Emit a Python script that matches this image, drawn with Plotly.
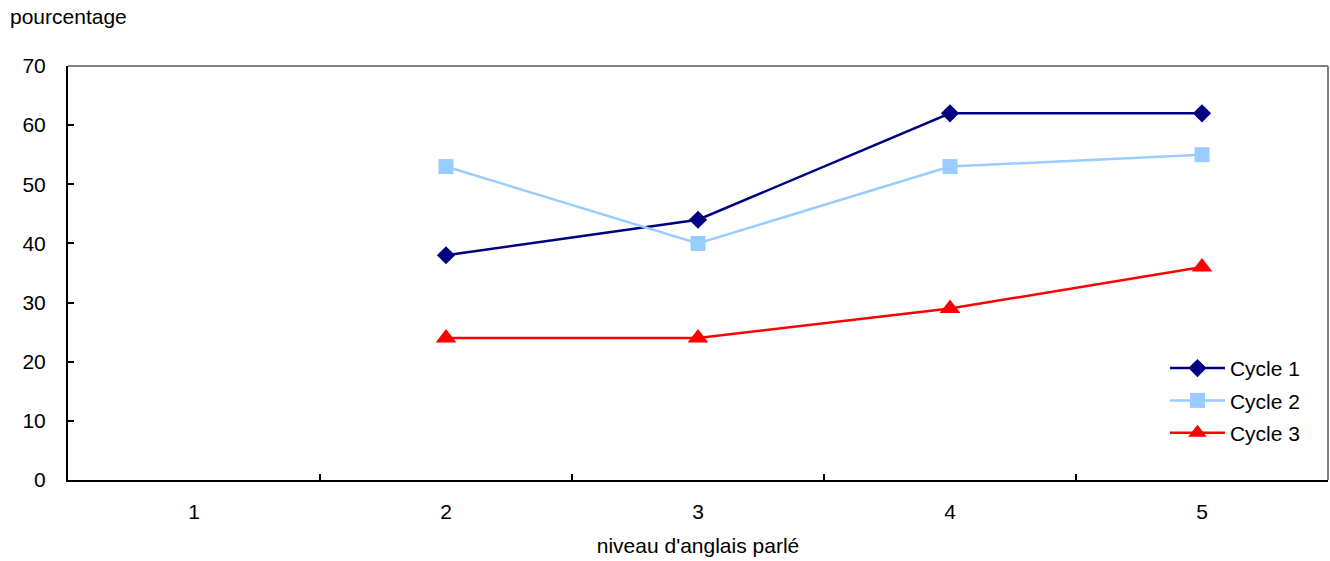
import plotly.graph_objects as go

categories = ["1", "2", "3", "4", "5"]
cycle1 = [None, 38, 44, 62, 62]
cycle2 = [None, 53, 40, 53, 55]
cycle3 = [None, 24, 24, 29, 36]
y_ticks = [0, 10, 20, 30, 40, 50, 60, 70]

FONT = "Liberation Sans, Arial, sans-serif"
FS = 21

fig = go.Figure()
fig.add_trace(go.Scatter(x=categories, y=cycle1, name="Cycle 1", mode="lines+markers",
                         legendgroup="c1",
                         line=dict(color="#000080", width=2.5),
                         marker=dict(symbol="diamond", size=14, color="#000080")))
fig.add_trace(go.Scatter(x=categories, y=cycle2, name="Cycle 2", mode="lines+markers",
                         legendgroup="c2",
                         line=dict(color="#99CCFF", width=2.5),
                         marker=dict(symbol="square", size=15, color="#99CCFF")))
fig.add_trace(go.Scatter(x=categories, y=cycle3, name="Cycle 3", mode="lines+markers",
                         legendgroup="c3",
                         line=dict(color="#FF0000", width=2.5),
                         marker=dict(symbol="triangle-up", size=18, color="#FF0000")))

fig.update_layout(
    width=1330, height=561,
    margin=dict(l=68, r=2, t=66, b=81),
    paper_bgcolor="white", plot_bgcolor="white",
    font=dict(family=FONT, size=FS, color="black"),
    showlegend=True,
    legend=dict(x=0.8706, y=0.319, xanchor="left", yanchor="top",
                bgcolor="rgba(0,0,0,0)", font=dict(size=FS), tracegroupgap=2,
                itemwidth=55),
    xaxis=dict(type="category", categoryorder="array", categoryarray=categories,
               range=[-0.5, 4.5], tickson="boundaries", ticks="inside", ticklen=6,
               tickwidth=2, tickcolor="black", showline=True, linecolor="black",
               linewidth=2, showgrid=False, zeroline=False, ticklabelstandoff=12,
               tickfont=dict(size=FS),
               title=dict(text="niveau d'anglais parlé", standoff=16,
                          font=dict(size=FS))),
    yaxis=dict(range=[0, 70], tickvals=y_ticks, ticks="inside", ticklen=6,
               tickwidth=2, tickcolor="black", showline=True, linecolor="black",
               linewidth=2, showgrid=False, zeroline=False, ticklabelstandoff=16,
               tickfont=dict(size=FS)),
    annotations=[dict(text="pourcentage", xref="paper", yref="paper",
                      x=-60/1260, y=1 + 49/414, xanchor="left", yanchor="middle",
                      showarrow=False, font=dict(size=FS))],
    shapes=[
        dict(type="line", xref="paper", yref="paper", x0=0, x1=1, y0=1, y1=1,
             line=dict(color="#808080", width=2)),
        dict(type="line", xref="paper", yref="paper", x0=1, x1=1, y0=0, y1=1,
             line=dict(color="#808080", width=2)),
    ],
)

fig.write_html("out.html")
